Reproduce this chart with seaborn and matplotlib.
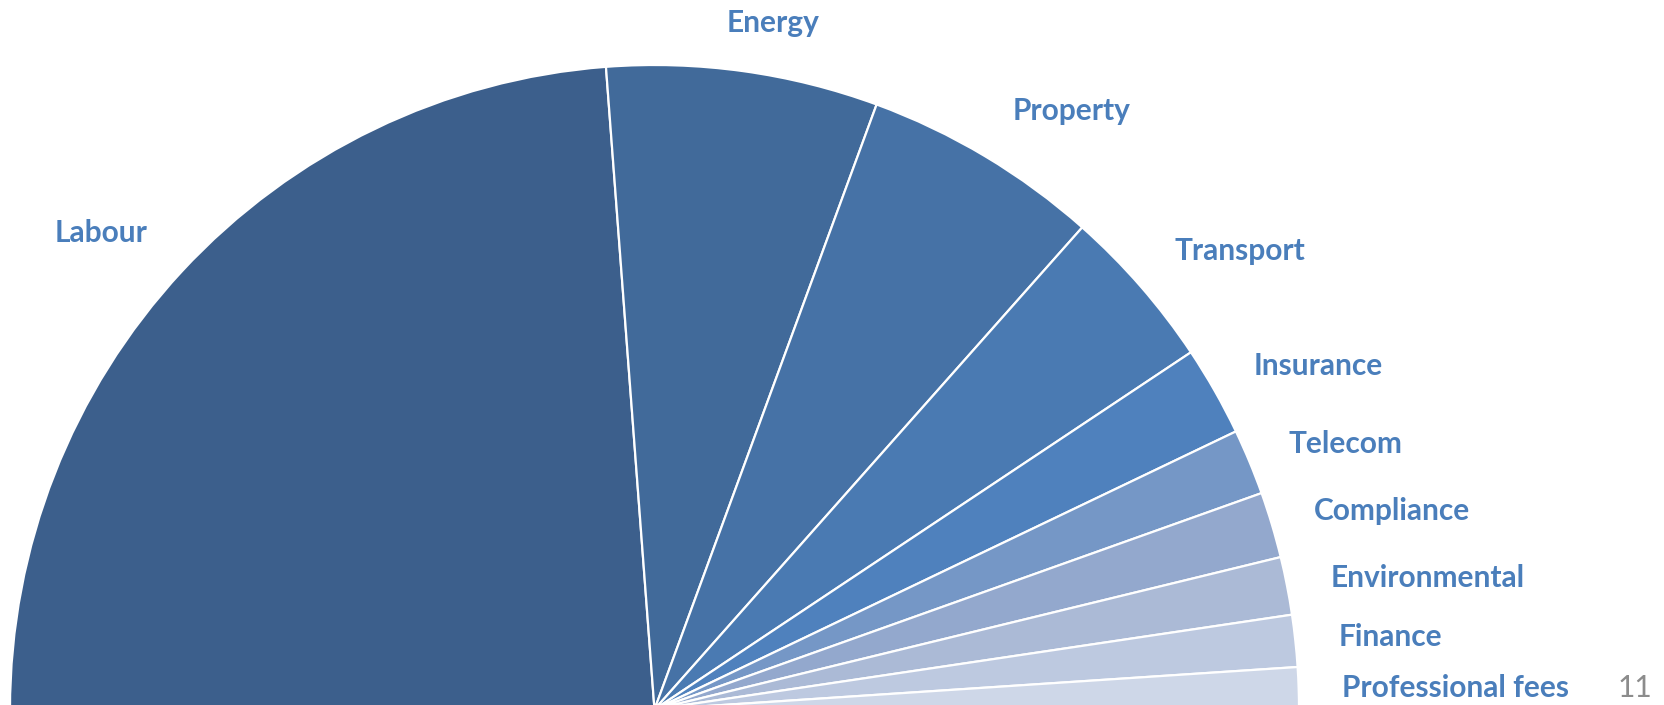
import matplotlib
matplotlib.use("Agg")
import matplotlib.pyplot as plt
import seaborn as sns

# Cost breakdown, shares of the half circle (%)
categories = ["Labour", "Energy", "Property", "Transport", "Insurance", "Telecom",
              "Compliance", "Environmental", "Finance", "Professional fees"]
shares = [47.6, 13.6, 11.9, 8.2, 4.5, 3.3, 3.3, 2.9, 2.6, 2.1]
colors = ["#3C5F8C", "#416A9A", "#4672A6", "#4A7AB2", "#4F81BD", "#7597C6",
          "#93A8CD", "#ABBAD6", "#BDC9E0", "#CED7E8"]
page_number = "11"

sns.set_theme(style="white")
plt.rcParams["font.family"] = ["Lato", "DejaVu Sans"]

W, H = 1665, 705
fig = plt.figure(figsize=(W / 100, H / 100), dpi=100)
ax = fig.add_axes([0, 0, 1, 1])

# Half pie: the shares fill 180 degrees, drawn clockwise from the left
total = sum(shares)
fractions = [s / (2 * total) for s in shares]
cx, cy, radius = 654.5, H - 709.5, 644.5
ax.pie(fractions, colors=colors, startangle=180, counterclock=False,
       normalize=False, center=(cx, cy), radius=radius, frame=True,
       wedgeprops=dict(edgecolor="white", linewidth=1.6))
ax.set_xlim(0, W)
ax.set_ylim(0, H)
ax.set_aspect("equal")
ax.axis("off")

# Label anchors (x centre, baseline from top)
label_x = [101, 773, 1072, 1240, 1318, 1345, 1392, 1428, 1390, 1456]
label_y = [242, 32, 120, 260, 375, 453, 520, 587, 646, 697]
for name, x, y in zip(categories, label_x, label_y):
    ax.text(x, H - y, name, ha="center", va="baseline", fontsize=21.5,
            fontweight="bold", color="#4A7EBB")

ax.text(1635, H - 697, page_number, ha="center", va="baseline", fontsize=21.5,
        color="#8C8C8C")

fig.savefig("out.png", dpi=100)
